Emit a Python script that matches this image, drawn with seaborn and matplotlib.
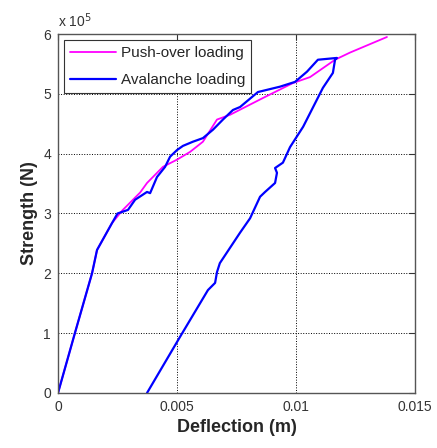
import numpy as np
import pandas as pd
import seaborn as sns
import matplotlib.pyplot as plt
from matplotlib.ticker import FuncFormatter

# push-over loading (deflection m, strength N)
push_x = [0, 0.00071, 0.00143, 0.00164, 0.00227, 0.0027, 0.00345, 0.00374, 0.00441,
          0.0050, 0.00555, 0.00609, 0.00668, 0.00723, 0.00861, 0.00987, 0.01059,
          0.01164, 0.01227, 0.01382]
push_y = [0, 1.0e5, 2.0e5, 2.39e5, 2.84e5, 3.05e5, 3.35e5, 3.51e5, 3.78e5,
          3.9e5, 4.03e5, 4.2e5, 4.57e5, 4.65e5, 4.93e5, 5.18e5, 5.28e5,
          5.57e5, 5.69e5, 5.95e5]

# avalanche loading: loading branch then unloading branch
aval_x = [0, 0.00071, 0.00143, 0.00164, 0.00227, 0.0025, 0.00294, 0.00324, 0.00374,
          0.00387, 0.00416, 0.0045, 0.00471, 0.0050, 0.00525, 0.00567, 0.00609,
          0.00651, 0.00693, 0.00735, 0.00765, 0.0084, 0.00933, 0.00996, 0.01046,
          0.01092, 0.01172,
          0.01164, 0.01155, 0.01113, 0.0103, 0.00975, 0.00945, 0.00912, 0.0092,
          0.00912, 0.0087, 0.00849, 0.00807, 0.00765, 0.0068, 0.00668, 0.0066,
          0.0063, 0.00588, 0.00513, 0.00374]
aval_y = [0, 1.0e5, 2.0e5, 2.39e5, 2.84e5, 3.0e5, 3.06e5, 3.23e5, 3.36e5,
          3.34e5, 3.61e5, 3.78e5, 3.95e5, 4.06e5, 4.13e5, 4.2e5, 4.26e5,
          4.4e5, 4.57e5, 4.73e5, 4.78e5, 5.03e5, 5.12e5, 5.2e5, 5.37e5,
          5.57e5, 5.6e5,
          5.57e5, 5.35e5, 5.1e5, 4.45e5, 4.11e5, 3.85e5, 3.76e5, 3.68e5,
          3.51e5, 3.36e5, 3.28e5, 2.92e5, 2.68e5, 2.17e5, 2.02e5, 1.84e5,
          1.72e5, 1.44e5, 0.94e5, 0]

push = pd.DataFrame({'x': push_x, 'y': push_y})
aval = pd.DataFrame({'x': aval_x, 'y': aval_y})

sns.set_style('white')
plt.rcParams['font.family'] = ['Liberation Sans', 'DejaVu Sans']

fig = plt.figure(figsize=(4.37, 4.48), dpi=100)
ax = fig.add_axes([0.1327, 0.1228, 0.8170, 0.8013])

sns.lineplot(data=push, x='x', y='y', sort=False, estimator=None,
             color='#ff00ff', linewidth=1.3, label='Push-over loading', ax=ax)
sns.lineplot(data=aval, x='x', y='y', sort=False, estimator=None,
             color='#0000ff', linewidth=1.6, label='Avalanche loading', ax=ax)

ax.set_xlim(0, 0.015)
ax.set_ylim(0, 6e5)
ax.set_xticks([0, 0.005, 0.01, 0.015])
ax.set_xticklabels(['0', '0.005', '0.01', '0.015'])
ax.set_yticks(np.arange(0, 7e5, 1e5))
ax.yaxis.set_major_formatter(FuncFormatter(lambda v, p: '%d' % round(v / 1e5)))
ax.tick_params(direction='in', length=4, labelsize=10, colors='#333333',
               top=True, right=True, pad=5)
ax.grid(True, linestyle=':', color='black', linewidth=0.7)
for s in ax.spines.values():
    s.set_color('#555555')
    s.set_linewidth(1.0)

ax.set_xlabel('Deflection (m)', fontsize=13, fontweight='bold')
ax.set_ylabel('Strength (N)', fontsize=13, fontweight='bold')
ax.text(0.0, 1.01, 'x 10$^5$', transform=ax.transAxes, fontsize=10,
        ha='left', va='bottom', color='#333333')

leg = ax.legend(loc='upper left', fontsize=11, fancybox=False, framealpha=1,
                edgecolor='#333333', borderaxespad=0.4, handlelength=3.0,
                handletextpad=0.3, labelspacing=0.85)
leg.get_frame().set_linewidth(0.8)

plt.savefig('out.png', dpi=100)
